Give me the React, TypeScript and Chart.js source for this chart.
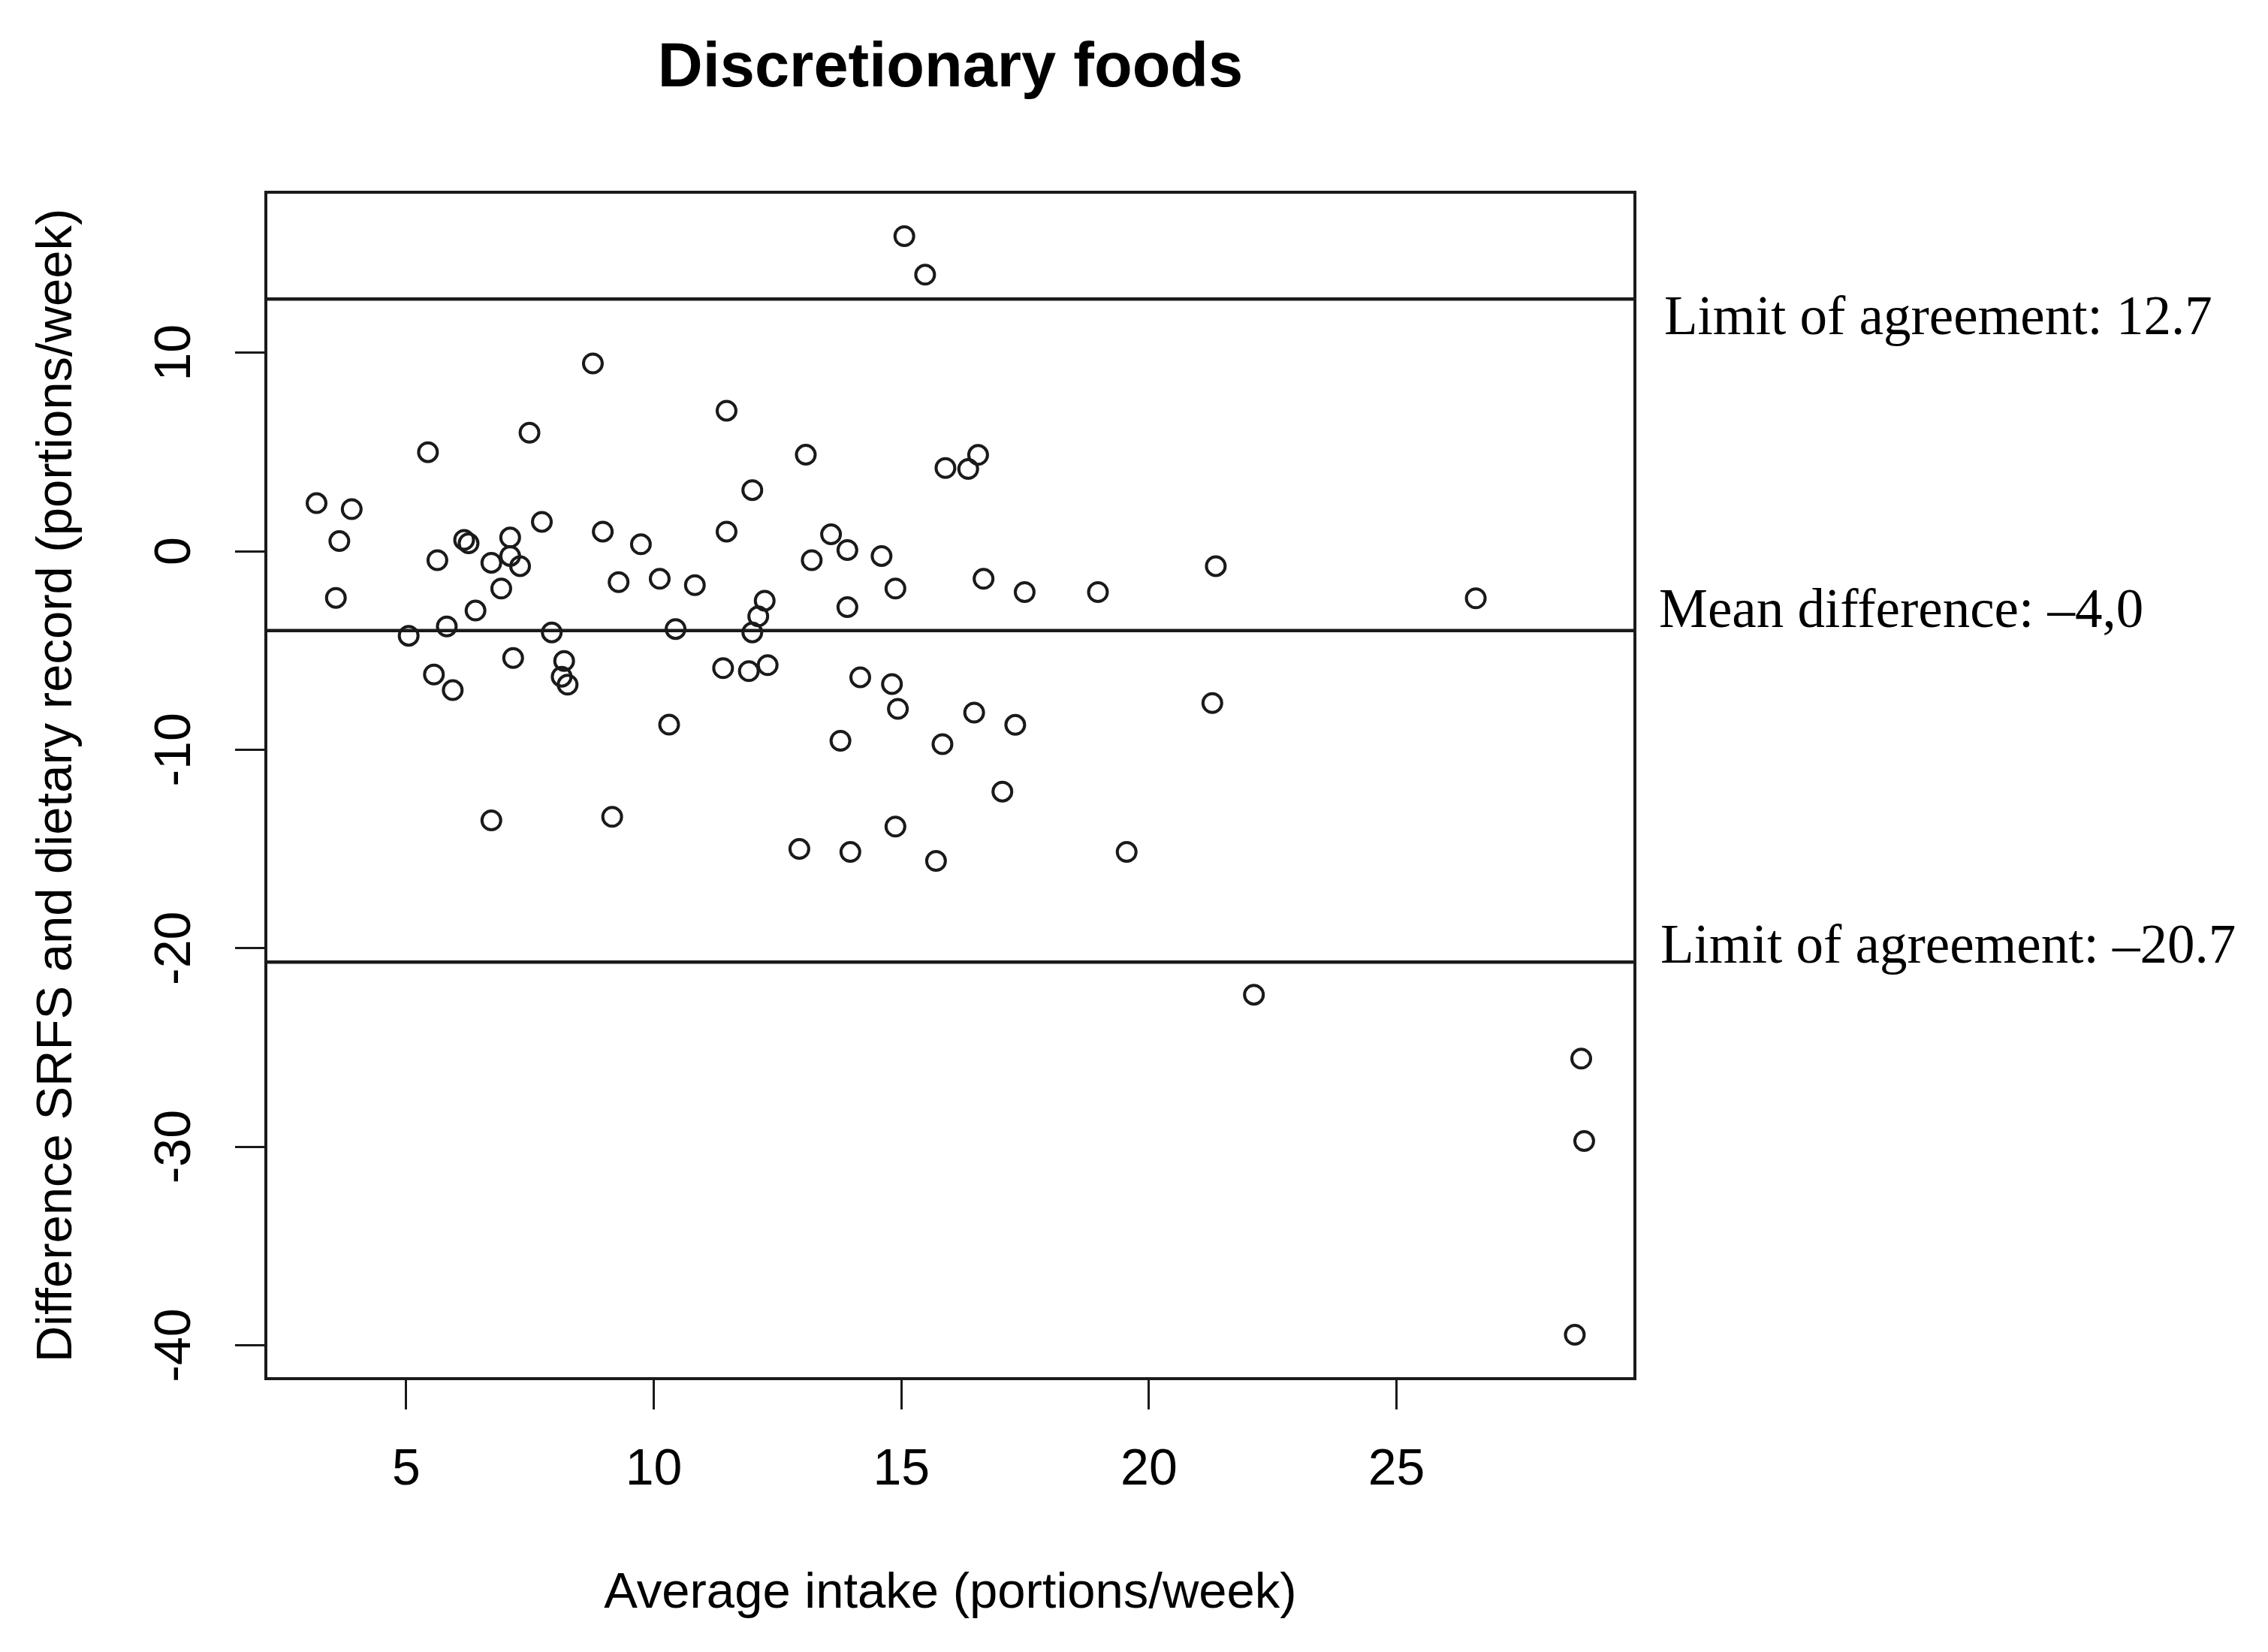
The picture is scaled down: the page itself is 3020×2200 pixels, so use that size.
import React, { useEffect, useRef } from "react";
import { Chart, registerables } from "chart.js";

Chart.register(...registerables);

const TITLE = "Discretionary foods";
const X_TITLE = "Average intake (portions/week)";
const Y_TITLE = "Difference SRFS and dietary record (portions/week)";

// Average intake (x) of each participant
const avgIntake = [
  15.06, 15.48, 8.77, 11.47, 7.49, 5.44, 13.07, 11.99, 3.19, 3.9,
  7.74, 3.65, 6.17, 6.26, 7.1, 8.97, 9.74, 11.47, 13.58, 13.91,
  14.6, 13.19, 5.63, 6.72, 7.1, 7.3, 9.29, 10.12, 10.83, 14.88,
  3.58, 6.92, 12.24, 12.11, 13.91, 6.4, 5.82, 5.05, 7.94, 10.44,
  11.99, 5.56, 5.94, 7.16, 8.19, 8.14, 8.26, 6.72, 9.16, 10.31,
  11.4, 11.92, 12.3, 14.17, 14.81, 14.93, 13.77, 14.88, 12.94, 13.97,
  15.7, 15.89, 16.35, 16.55, 16.66, 17.49, 18.97, 21.35, 26.6, 21.28,
  16.47, 17.3, 15.83, 17.04, 19.55, 22.12, 28.73, 28.79, 28.6,
];

// Difference SRFS - dietary record (y) of each participant
const difference = [
  15.87, 13.93, 9.46, 7.08, 5.97, 4.99, 4.86, 3.08, 2.42, 2.12,
  1.48, 0.51, 0.57, 0.4, 0.69, 0.99, 0.35, 0.99, 0.85, 0.06,
  -0.24, -0.45, -0.45, -0.58, -0.24, -0.75, -1.56, -1.39, -1.71, -1.88,
  -2.35, -1.88, -2.49, -3.28, -2.82, -2.99, -3.79, -4.26, -4.09, -3.92,
  -4.09, -6.21, -7.0, -5.38, -5.53, -6.32, -6.72, -13.56, -13.38, -8.74,
  -5.89, -6.04, -5.74, -6.35, -6.69, -7.94, -9.55, -13.87, -15.0, -15.15,
  -15.6, 4.19, 4.14, 4.85, -1.39, -2.06, -2.06, -0.75, -2.37, -7.65,
  -8.13, -8.75, -9.72, -12.11, -15.15, -22.34, -25.56, -29.71, -39.47,
];

const xTicks = [5, 10, 15, 20, 25];
const yTicks = [-40, -30, -20, -10, 0, 10];

// Reference lines (limits of agreement and mean difference)
const refValues = [12.7, -4.0, -20.7];
const refLabels = [
  "Limit of agreement: 12.7",
  "Mean difference: \u20134,0",
  "Limit of agreement: \u201320.7",
];

// ---- styling ----
const SANS = "'Liberation Sans', Arial, sans-serif";
const SERIF = "'Liberation Serif', 'Times New Roman', serif";
const INK = "#1a1a1a";
const W = 3020;
const H = 2200;
const labelDx = [39, 32, 34];
const labelDy = [47, -5, 1];

function rRange(vals: number[]): [number, number] {
  const lo = Math.min(...vals);
  const hi = Math.max(...vals);
  const pad = (hi - lo) * 0.04;
  return [lo - pad, hi + pad];
}

export default function App() {
  const ref = useRef<HTMLCanvasElement | null>(null);

  useEffect(() => {
    if (!ref.current) return;
    const [xLo, xHi] = rRange(avgIntake);
    const [yLo, yHi] = rRange(difference);

    const boxPlugin = {
      id: "rbox",
      afterDraw(chart: any) {
        const { ctx, chartArea } = chart;
        const { left, top, right, bottom } = chartArea;
        ctx.save();
        ctx.strokeStyle = INK;
        ctx.lineWidth = 4;
        ctx.strokeRect(left, top, right - left, bottom - top);
        const yScale = chart.scales.y;
        ctx.fillStyle = "#000";
        ctx.font = `73px ${SERIF}`;
        ctx.textAlign = "left";
        ctx.textBaseline = "alphabetic";
        refLabels.forEach((t, i) => {
          const py = yScale.getPixelForValue(refValues[i]);
          ctx.fillText(t, right + labelDx[i], py + labelDy[i]);
        });
        ctx.restore();
      },
    };

    const chart = new Chart(ref.current, {
      type: "scatter",
      data: {
        datasets: [
          {
            data: avgIntake.map((x, i) => ({ x, y: difference[i] })),
            showLine: false,
            pointStyle: "circle",
            pointRadius: 12.5,
            pointHoverRadius: 12.5,
            pointBorderWidth: 4,
            borderColor: INK,
            backgroundColor: "rgba(0,0,0,0)",
          },
          ...refValues.map((v) => ({
            data: [
              { x: xLo, y: v },
              { x: xHi, y: v },
            ],
            showLine: true,
            borderColor: INK,
            borderWidth: 4.5,
            pointRadius: 0,
            pointHoverRadius: 0,
            fill: false,
          })),
        ],
      } as any,
      options: {
        animation: false,
        responsive: false,
        devicePixelRatio: 1,
        layout: { padding: { left: 0, top: 0, right: 843, bottom: 0 } },
        plugins: {
          legend: { display: false },
          tooltip: { enabled: false },
          title: {
            display: true,
            text: TITLE,
            fullSize: false,
            color: "#000",
            font: { family: SANS, size: 83, weight: "bold" },
            padding: { top: 42, bottom: 114.4 },
          },
        },
        scales: {
          x: {
            type: "linear",
            min: xLo,
            max: xHi,
            afterBuildTicks: (s: any) => {
              s.ticks = xTicks.map((v) => ({ value: v }));
            },
            afterFit: (s: any) => {
              s.height = 364;
            },
            ticks: {
              color: "#000",
              font: { family: SANS, size: 68 },
              padding: 40,
              maxRotation: 0,
              autoSkip: false,
            },
            grid: {
              display: true,
              drawOnChartArea: false,
              drawTicks: true,
              tickLength: 41,
              color: INK,
              lineWidth: 3,
            },
            border: { display: false },
            title: {
              display: true,
              text: X_TITLE,
              color: "#000",
              font: { family: SANS, size: 67 },
              padding: { top: 0, bottom: 37 },
            },
          },
          y: {
            type: "linear",
            min: yLo,
            max: yHi,
            afterBuildTicks: (s: any) => {
              s.ticks = yTicks.map((v) => ({ value: v }));
            },
            afterFit: (s: any) => {
              s.width = 354;
            },
            ticks: {
              color: "#000",
              font: { family: SANS, size: 68 },
              padding: 30,
              minRotation: 90,
              maxRotation: 90,
              crossAlign: "center",
              autoSkip: false,
            },
            grid: {
              display: true,
              drawOnChartArea: false,
              drawTicks: true,
              tickLength: 41,
              color: INK,
              lineWidth: 3,
            },
            border: { display: false },
            title: {
              display: true,
              text: Y_TITLE,
              color: "#000",
              font: { family: SANS, size: 67 },
              padding: { top: 36, bottom: 0 },
            },
          },
        },
      } as any,
      plugins: [boxPlugin],
    });
    return () => chart.destroy();
  }, []);

  return (
    <div style={{ position: "absolute", left: 0, top: 0, width: W, height: H, background: "#fff" }}>
      <canvas ref={ref} width={W} height={H} style={{ width: W, height: H, display: "block" }} />
    </div>
  );
}
